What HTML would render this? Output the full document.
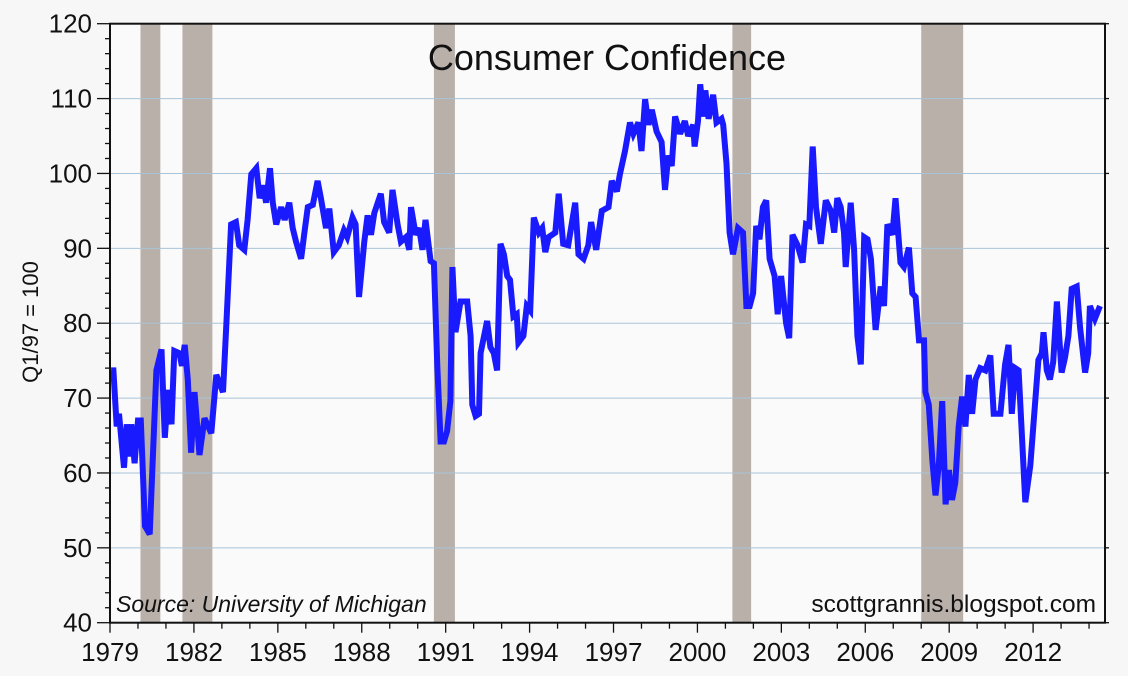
<!DOCTYPE html>
<html><head><meta charset="utf-8">
<style>
html,body{margin:0;padding:0;background:#f7f7f7;}
svg{display:block;font-family:"Liberation Sans",sans-serif;}
</style></head>
<body>
<svg id="chart" width="1128" height="676" viewBox="0 0 1128 676" xmlns="http://www.w3.org/2000/svg">
<rect x="0" y="0" width="1128" height="676" fill="#f7f7f7"/>
<rect x="110" y="23.7" width="995" height="599" fill="#fafafa"/>
<g id="recessions"></g>
<g id="grid"></g>
<g id="series"></g>
<g id="axes"></g>
<text x="607" y="70" font-size="36" text-anchor="middle" fill="#111">Consumer Confidence</text>
<text transform="translate(38,322) rotate(-90)" font-size="22" text-anchor="middle" fill="#111">Q1/97 = 100</text>
<text x="116" y="612" font-size="23" font-style="italic" fill="#111">Source:  University of Michigan</text>
<text x="1096" y="612" font-size="24.5" text-anchor="end" fill="#111">scottgrannis.blogspot.com</text>
</svg>
<script>
const dates=[1979.04,1979.12,1979.24,1979.32,1979.5,1979.6,1979.7,1979.76,1979.88,1980.0,1980.1,1980.25,1980.42,1980.66,1980.84,1980.96,1981.08,1981.2,1981.3,1981.48,1981.57,1981.67,1981.78,1981.9,1982.02,1982.2,1982.38,1982.62,1982.8,1983.04,1983.16,1983.33,1983.5,1983.62,1983.8,1983.92,1984.05,1984.23,1984.35,1984.47,1984.58,1984.72,1984.82,1984.94,1985.12,1985.24,1985.41,1985.53,1985.65,1985.83,1985.95,1986.07,1986.25,1986.42,1986.54,1986.72,1986.84,1987.0,1987.18,1987.36,1987.48,1987.67,1987.78,1987.9,1988.09,1988.21,1988.33,1988.45,1988.68,1988.8,1988.98,1989.1,1989.28,1989.4,1989.58,1989.7,1989.76,1989.93,1990.05,1990.17,1990.28,1990.46,1990.58,1990.7,1990.82,1990.94,1991.05,1991.17,1991.24,1991.35,1991.53,1991.77,1991.89,1991.95,1992.07,1992.19,1992.25,1992.48,1992.6,1992.72,1992.84,1992.96,1993.08,1993.2,1993.3,1993.42,1993.54,1993.6,1993.78,1993.9,1994.02,1994.15,1994.33,1994.45,1994.56,1994.68,1994.92,1995.04,1995.2,1995.38,1995.63,1995.75,1995.93,1996.1,1996.2,1996.38,1996.58,1996.82,1996.94,1997.12,1997.23,1997.41,1997.59,1997.71,1997.89,1998.0,1998.13,1998.25,1998.37,1998.54,1998.72,1998.84,1998.96,1999.08,1999.2,1999.38,1999.55,1999.67,1999.85,1999.9,2000.02,2000.1,2000.22,2000.28,2000.4,2000.56,2000.68,2000.86,2000.92,2001.04,2001.15,2001.27,2001.45,2001.63,2001.75,2001.87,2001.99,2002.1,2002.22,2002.34,2002.46,2002.58,2002.76,2002.87,2002.99,2003.17,2003.28,2003.4,2003.58,2003.76,2003.88,2004.0,2004.12,2004.24,2004.41,2004.59,2004.77,2004.89,2005.0,2005.12,2005.24,2005.3,2005.48,2005.6,2005.72,2005.84,2005.96,2006.08,2006.2,2006.37,2006.55,2006.67,2006.79,2006.97,2007.08,2007.26,2007.38,2007.56,2007.68,2007.8,2007.92,2008.1,2008.15,2008.27,2008.4,2008.51,2008.63,2008.75,2008.87,2008.99,2009.1,2009.22,2009.34,2009.46,2009.58,2009.7,2009.82,2009.94,2010.11,2010.29,2010.47,2010.59,2010.83,2011.0,2011.12,2011.24,2011.36,2011.48,2011.72,2011.9,2012.19,2012.31,2012.37,2012.49,2012.6,2012.72,2012.85,2013.02,2013.14,2013.26,2013.38,2013.56,2013.68,2013.86,2013.97,2014.03,2014.21,2014.39];
const values=[73.7,73.7,66.2,67.9,60.7,66.5,62.2,66.5,61.3,67,67,52.9,51.8,73.7,76.5,64.7,71.1,66.5,76.3,76,74.3,77.1,72.5,62.7,70.8,62.4,67.3,65.3,73.1,70.8,80,93.2,93.5,90.4,89.8,93.8,99.9,100.7,96.7,98.4,96.1,100.7,96.1,93.2,95.5,93.8,96.1,92.7,90.9,88.6,92.1,95.5,95.8,99,96.7,92.7,95.3,89.5,90.4,92.4,91.5,94.1,93.2,83.5,90.9,94.4,91.8,94.7,97.3,93.5,92.1,97.8,93.2,90.9,91.5,89.8,95.5,91.8,92.7,89.8,93.8,88.3,88,74.3,64.2,64.2,65.6,69.6,87.5,78.8,82.9,82.9,78.3,69.1,67.6,67.9,76,80.3,76.8,76,73.7,90.6,89.2,86.3,85.8,80.9,81.2,77.4,78.3,82.3,81.7,94.1,92.1,92.7,89.5,91.5,92.1,97.3,90.6,90.4,96.1,89.2,88.6,90.4,93.5,89.8,95,95.5,99,97.6,99.9,103,106.8,105.3,106.8,103,109.9,106.5,108.5,105.6,104.2,97.8,102.4,101,107.6,105.3,107,105,106.5,103.6,107,111.9,107.6,111.1,107.3,110.5,106.8,107.3,106.5,101.3,92.1,89.2,92.7,92.1,82.3,82.3,84,93,91.2,95.5,96.4,88.6,86.3,81.2,86.3,80,78,91.8,90.4,88.1,93.2,93,103.6,95.5,90.6,96.4,95,92.1,96.7,95.5,92.1,87.5,96.1,89.8,78.3,74.5,91.5,91.2,88.6,79.1,84.9,82.3,93.2,91.8,96.7,88.1,87.5,90.1,84,83.5,77.7,77.7,70.8,69.1,61.6,57,61,69.6,55.8,60.4,56.4,58.7,66.2,70.2,66.2,73.1,67.9,72.5,74,73.7,75.7,67.9,67.9,74.5,77.1,67.9,74,73.7,56.1,61,75.1,76,78.8,73.7,72.5,74.8,82.9,73.4,75.4,78.3,84.6,84.9,79.4,73.4,76,82.3,80.6,82.3];
const recStart=[1980.09,1981.59,1990.58,2001.25,2008.0];
const recEnd=[1980.8,1982.66,1991.33,2001.92,2009.5];
const yTicks=[40,50,60,70,80,90,100,110,120];
const xTickYears=[1979,1982,1985,1988,1991,1994,1997,2000,2003,2006,2009,2012];

const X0=110,X1=1105,Y0=622.7,Y1=23.7,XMIN=1979,XMAX=2014.57,VMIN=40,VMAX=120;
const sx=t=>X0+(t-XMIN)/(XMAX-XMIN)*(X1-X0);
const sy=v=>Y0-(v-VMIN)/(VMAX-VMIN)*(Y0-Y1);
const NS="http://www.w3.org/2000/svg";
function mk(tag,parent,attrs){const e=document.createElementNS(NS,tag);for(const k in attrs)e.setAttribute(k,attrs[k]);parent.appendChild(e);return e;}

const rg=document.getElementById('recessions');
for(let i=0;i<recStart.length;i++){
  const r=mk('rect',rg,{x:sx(recStart[i]),y:Y1,width:sx(recEnd[i])-sx(recStart[i]),height:Y0-Y1,fill:'#b9b0aa'});
  
  
}
const gg=document.getElementById('grid');
yTicks.forEach(v=>{
  if(v===VMIN)return;
  const l=mk('line',gg,{x1:X0,x2:X1,y1:sy(v),y2:sy(v),stroke:'#a9c4d8','stroke-width':1});
  
  
});
const sg=document.getElementById('series');
const pts=dates.map((d,i)=>sx(d).toFixed(1)+','+sy(values[i]).toFixed(1)).join(' ');
const pl=mk('polyline',sg,{points:pts,fill:'none',stroke:'#1a1aff','stroke-width':6,'stroke-linejoin':'miter','stroke-miterlimit':3});



const ag=document.getElementById('axes');
mk('rect',ag,{x:X0,y:Y1,width:X1-X0,height:Y0-Y1,fill:'none',stroke:'#111','stroke-width':2});
for(let v=VMIN;v<=VMAX;v+=2){
  const major=v%10===0;
  mk('line',ag,{x1:X0-(major?13:5),x2:X0,y1:sy(v),y2:sy(v),stroke:'#111','stroke-width':1.3});
  if(major) mk('line',ag,{x1:X1,x2:X1+4,y1:sy(v),y2:sy(v),stroke:'#111','stroke-width':1.3});
}
yTicks.forEach(v=>{
  const t=mk('text',ag,{x:92,y:sy(v)+9,'font-size':26,'text-anchor':'end',fill:'#111'});
  t.textContent=v;
  
  
});
for(let yr=1979;yr<=2014;yr++){
  const major=(yr-1979)%3===0;
  mk('line',ag,{x1:sx(yr),x2:sx(yr),y1:Y0,y2:Y0+(major?10:6),stroke:'#111','stroke-width':1.3});
}
xTickYears.forEach(yr=>{
  const t=mk('text',ag,{x:sx(yr),y:661,'font-size':26,'text-anchor':'middle',fill:'#111'});
  t.textContent=yr;
  
  
});
</script>
</body></html>
